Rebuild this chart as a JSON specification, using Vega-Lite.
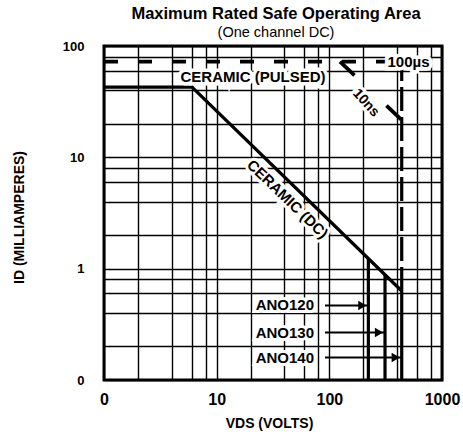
{
  "$schema": "https://vega.github.io/schema/vega-lite/v6.json",
  "autosize": {"type": "none"},
  "width": 338,
  "height": 334,
  "padding": {"left": 104, "top": 46, "right": 21, "bottom": 52},
  "background": "white",
  "title": {
    "text": "Maximum Rated Safe Operating Area",
    "subtitle": "(One channel DC)",
    "font": "Liberation Sans",
    "subtitleFont": "Liberation Sans",
    "fontSize": 16.5,
    "fontWeight": "bold",
    "color": "black",
    "subtitleFontSize": 14.5,
    "subtitleFontWeight": "normal",
    "subtitleColor": "black",
    "subtitlePadding": 3,
    "anchor": "middle",
    "dx": 3,
    "offset": 1
  },
  "config": {
    "view": {"stroke": "black", "strokeWidth": 3},
    "font": "Liberation Sans",
    "text": {"font": "Liberation Sans"}
  },
  "encoding": {
    "x": {
      "field": "v",
      "type": "quantitative",
      "scale": {"type": "log", "domain": [1, 1000], "nice": false, "zero": false},
      "axis": {
        "values": [1, 2, 4, 6, 8, 10, 20, 40, 60, 80, 100, 200, 400, 600, 800, 1000],
        "labelExpr": "datum.value == 1 ? '0' : datum.value == 10 ? '10' : datum.value == 100 ? '100' : datum.value == 1000 ? '1000' : ''",
        "grid": true,
        "gridColor": "black",
        "gridWidth": 1.4,
        "gridOpacity": 1,
        "domain": false,
        "ticks": false,
        "tickSize": 0,
        "labelPadding": 11,
        "labelFontSize": 16,
        "labelFontWeight": "bold",
        "labelColor": "black",
        "labelOverlap": false,
        "labelBound": false,
        "labelFlush": false,
        "title": "VDS (VOLTS)",
        "titleFontSize": 14,
        "titleFontWeight": "bold",
        "titleColor": "black",
        "titleX": 165,
        "titleY": 43,
        "titleAlign": "center",
        "titleBaseline": "middle"
      }
    },
    "y": {
      "field": "i",
      "type": "quantitative",
      "scale": {"type": "log", "domain": [0.1, 100], "nice": false, "zero": false},
      "axis": {
        "values": [0.1, 0.2, 0.4, 0.6, 0.8, 1, 2, 4, 6, 8, 10, 20, 40, 60, 80, 100],
        "labelExpr": "datum.value == 0.1 ? '0' : datum.value == 1 ? '1' : datum.value == 10 ? '10' : datum.value == 100 ? '100' : ''",
        "grid": true,
        "gridColor": "black",
        "gridWidth": 1.4,
        "gridOpacity": 1,
        "domain": false,
        "ticks": false,
        "tickSize": 0,
        "labelPadding": 20,
        "labelFontSize": 13,
        "labelFontWeight": "bold",
        "labelColor": "black",
        "labelOverlap": false,
        "labelBound": false,
        "labelFlush": false,
        "title": "ID (MILLIAMPERES)",
        "titleFontSize": 14,
        "titleFontWeight": "bold",
        "titleColor": "black",
        "titleX": -85,
        "titleY": 171,
        "titleAngle": -90,
        "titleAlign": "center",
        "titleBaseline": "middle"
      }
    }
  },
  "layer": [
    {
      "data": {"values": [{"v": 1, "i": 42.8}, {"v": 6.04, "i": 42.8}, {"v": 439, "i": 0.63}]},
      "mark": {"type": "line", "color": "black", "strokeWidth": 3.2}
    },
    {
      "data": {"values": [{"v": 1, "i": 72.3}, {"v": 439, "i": 72.3}]},
      "mark": {"type": "line", "color": "black", "strokeWidth": 3.8, "strokeDash": [14, 20]}
    },
    {
      "data": {"values": [{"v": 439, "i": 0.63, "i2": 72.3}]},
      "mark": {"type": "rule", "color": "black", "strokeWidth": 3.2, "strokeDash": [24, 6]},
      "encoding": {"y2": {"field": "i2"}}
    },
    {
      "data": {"values": [{"v": 124.3, "i": 72.3}, {"v": 439, "i": 21.6}]},
      "mark": {"type": "line", "color": "black", "strokeWidth": 3.8, "strokeDash": [20, 44]}
    },
    {
      "data": {"values": [{"v": 222, "i": 0.1, "i2": 1.232}, {"v": 312, "i": 0.1, "i2": 0.882}, {"v": 439, "i": 0.1, "i2": 0.63}]},
      "mark": {"type": "rule", "color": "black", "strokeWidth": 3.2},
      "encoding": {"y2": {"field": "i2"}}
    },
    {
      "data": {"values": [{"label": "CERAMIC (PULSED)", "v": 21, "i": 52.7}, {"label": "100µs", "v": 504, "i": 72.3}]},
      "mark": {"type": "text", "fontSize": 15, "fontWeight": "bold", "align": "center", "baseline": "middle", "fill": "white", "stroke": "white", "strokeWidth": 7},
      "encoding": {"text": {"field": "label"}}
    },
    {
      "data": {"values": [{"label": "CERAMIC (PULSED)", "v": 21, "i": 52.7}, {"label": "100µs", "v": 504, "i": 72.3}]},
      "mark": {"type": "text", "fontSize": 15, "fontWeight": "bold", "align": "center", "baseline": "middle", "color": "black"},
      "encoding": {"text": {"field": "label"}}
    },
    {
      "data": {"values": [{"label": "CERAMIC (DC)", "v": 42.5, "i": 4.22}]},
      "mark": {"type": "text", "fontSize": 15, "fontWeight": "bold", "align": "center", "baseline": "middle", "angle": 44, "fill": "white", "stroke": "white", "strokeWidth": 6},
      "encoding": {"text": {"field": "label"}}
    },
    {
      "data": {"values": [{"label": "CERAMIC (DC)", "v": 42.5, "i": 4.22}]},
      "mark": {"type": "text", "fontSize": 15, "fontWeight": "bold", "align": "center", "baseline": "middle", "angle": 44, "color": "black"},
      "encoding": {"text": {"field": "label"}}
    },
    {
      "data": {"values": [{"label": "10ns", "v": 211.6, "i": 30.8}]},
      "mark": {"type": "text", "fontSize": 14, "fontWeight": "bold", "align": "center", "baseline": "middle", "angle": 48, "fill": "white", "stroke": "white", "strokeWidth": 6},
      "encoding": {"text": {"field": "label"}}
    },
    {
      "data": {"values": [{"label": "10ns", "v": 211.6, "i": 30.8}]},
      "mark": {"type": "text", "fontSize": 14, "fontWeight": "bold", "align": "center", "baseline": "middle", "angle": 48, "color": "black"},
      "encoding": {"text": {"field": "label"}}
    },
    {
      "data": {"values": [{"label": "ANO120", "v": 73.1, "i": 0.467}, {"label": "ANO130", "v": 73.1, "i": 0.267}, {"label": "ANO140", "v": 73.1, "i": 0.159}]},
      "mark": {"type": "text", "fontSize": 15, "fontWeight": "bold", "align": "right", "baseline": "middle", "fill": "white", "stroke": "white", "strokeWidth": 6},
      "encoding": {"text": {"field": "label"}}
    },
    {
      "data": {"values": [{"label": "ANO120", "v": 73.1, "i": 0.467}, {"label": "ANO130", "v": 73.1, "i": 0.267}, {"label": "ANO140", "v": 73.1, "i": 0.159}]},
      "mark": {"type": "text", "fontSize": 15, "fontWeight": "bold", "align": "right", "baseline": "middle", "color": "black"},
      "encoding": {"text": {"field": "label"}}
    },
    {
      "data": {"values": [{"v": 91.5, "v2": 222, "i": 0.467}, {"v": 91.5, "v2": 312, "i": 0.267}, {"v": 91.5, "v2": 439, "i": 0.159}]},
      "mark": {"type": "rule", "color": "black", "strokeWidth": 2},
      "encoding": {"x2": {"field": "v2"}}
    },
    {
      "data": {"values": [{"v2": 222, "i": 0.467}, {"v2": 312, "i": 0.267}, {"v2": 439, "i": 0.159}]},
      "mark": {"type": "point", "shape": "triangle-right", "filled": true, "color": "black", "opacity": 1, "size": 90, "xOffset": -6},
      "encoding": {"x": {"field": "v2", "type": "quantitative"}}
    }
  ]
}
